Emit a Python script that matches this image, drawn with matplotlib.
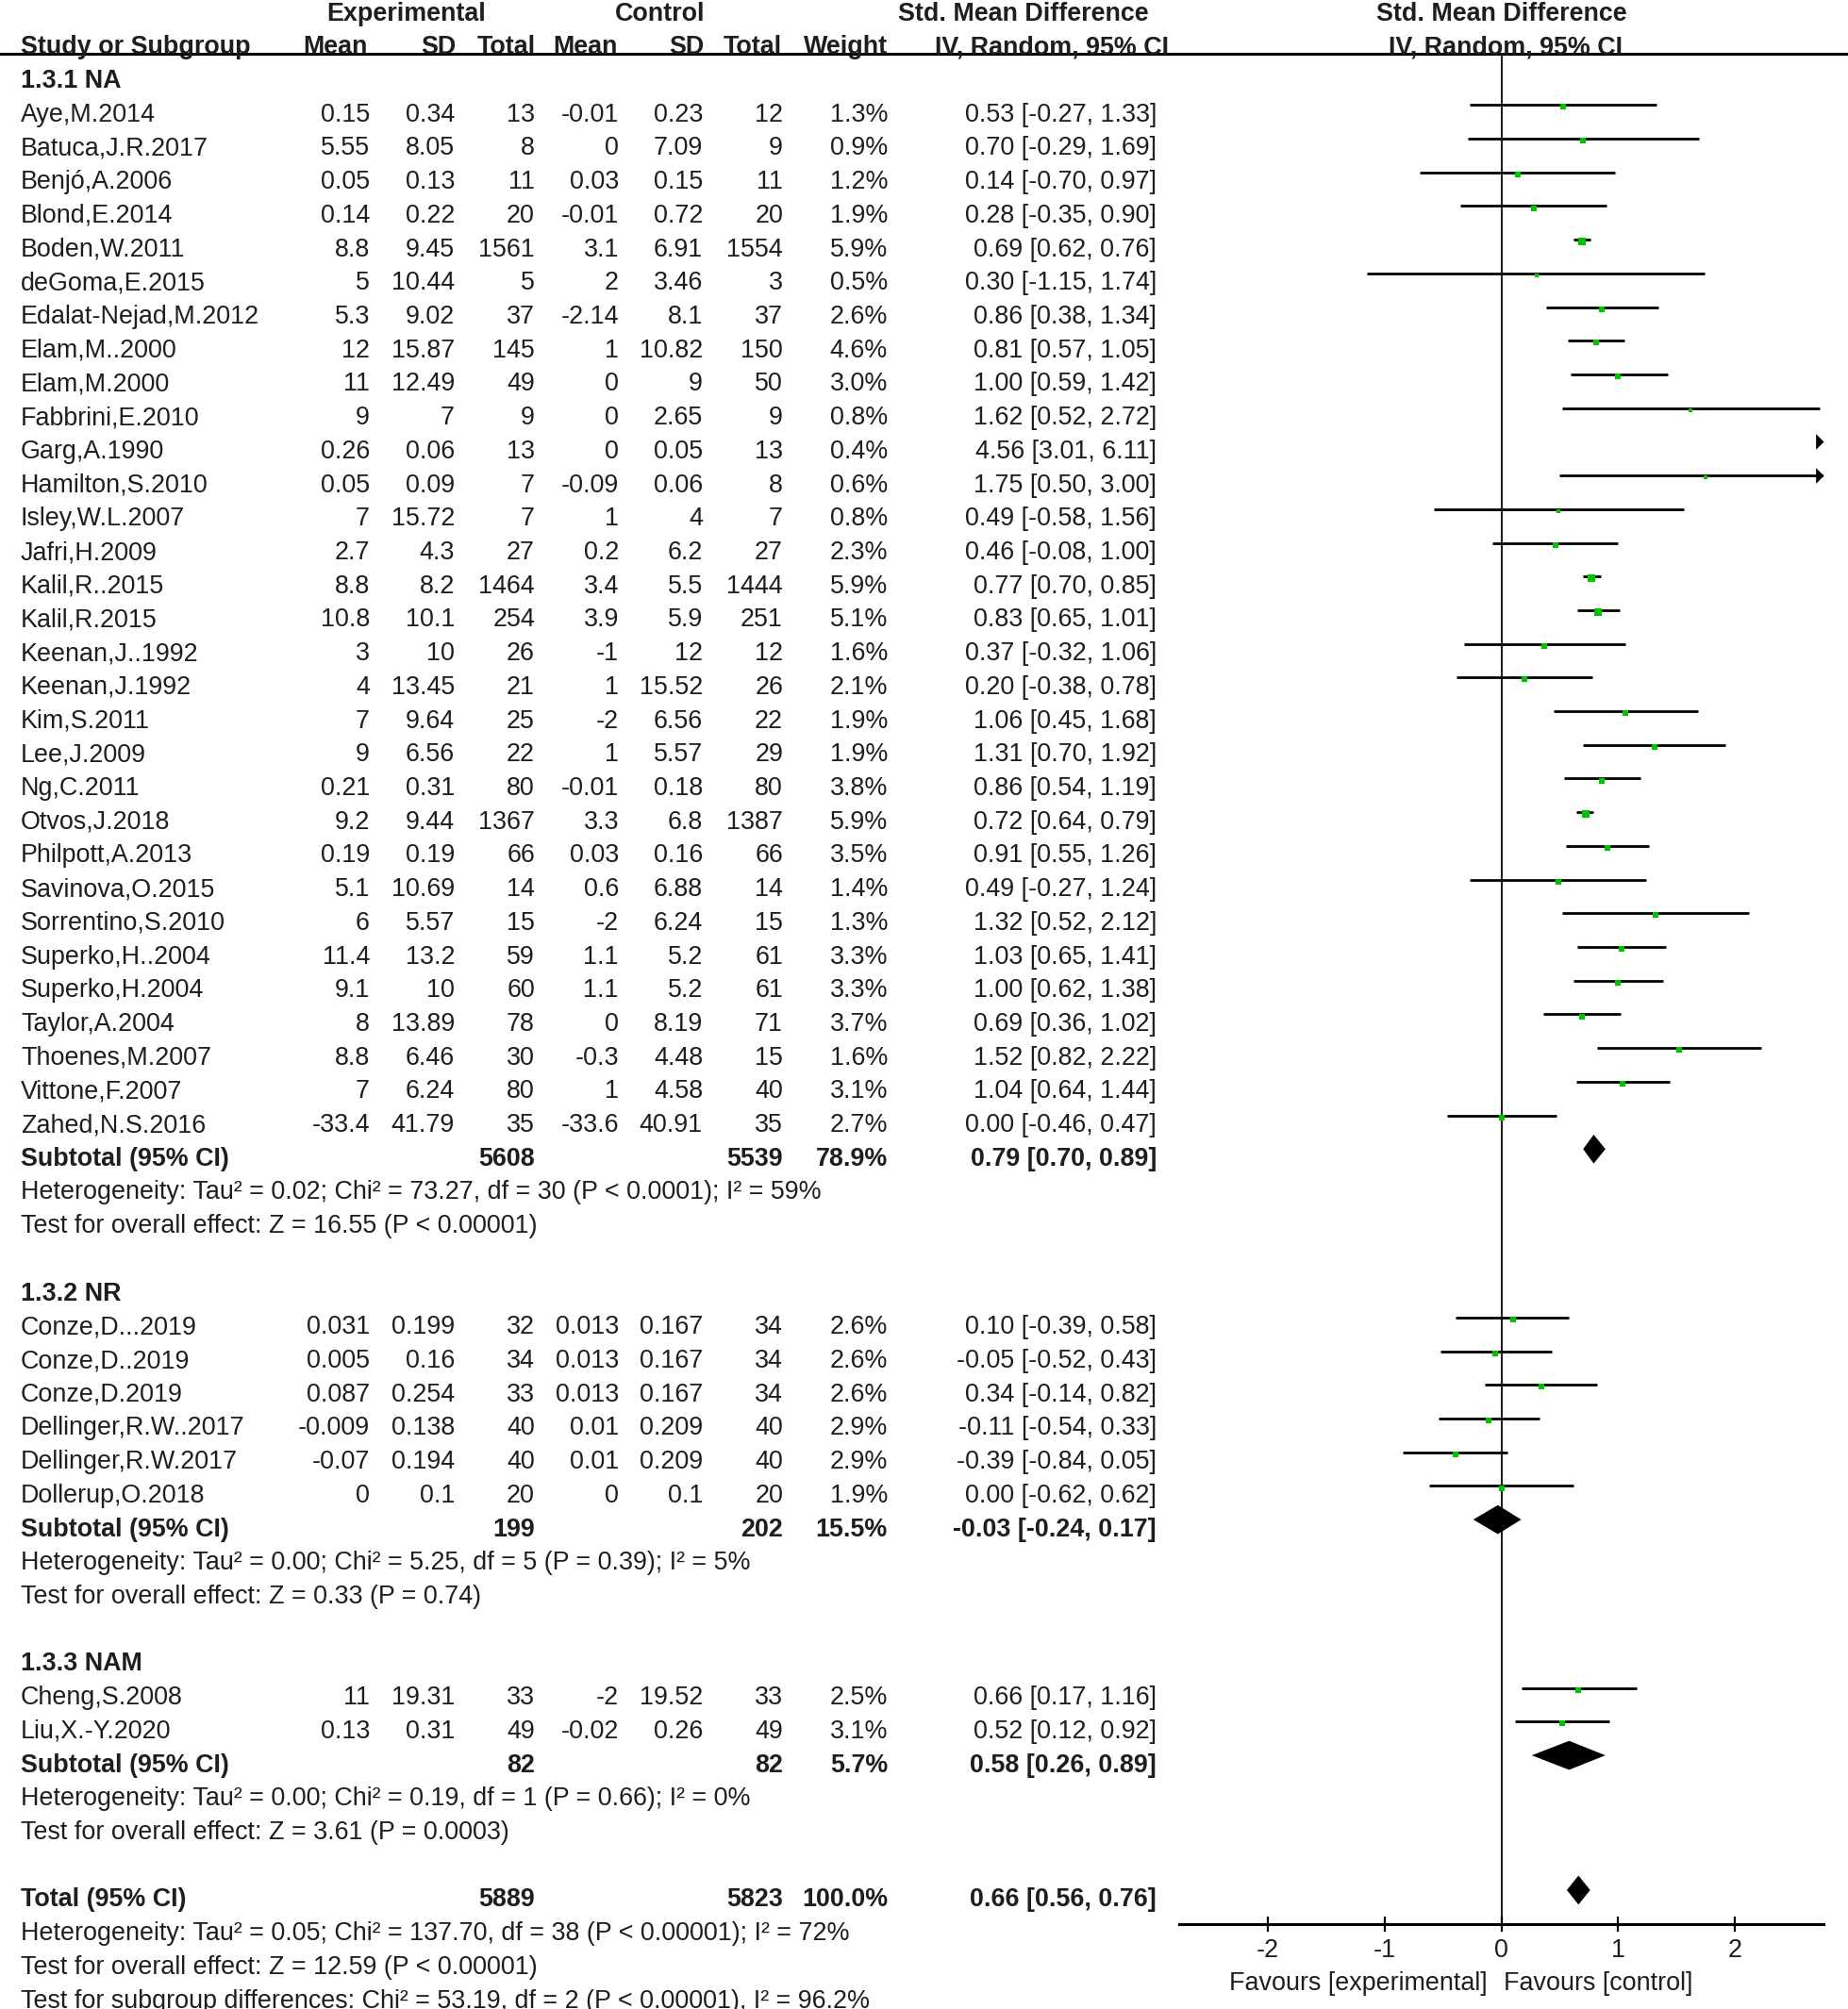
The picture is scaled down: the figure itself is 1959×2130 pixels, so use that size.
import matplotlib
matplotlib.use("Agg")
import matplotlib.pyplot as plt

plt.rcParams['font.family'] = ['Liberation Sans', 'DejaVu Sans']

W, H = 1959, 2130
ROW0, ROW_H = 12.0, 35.71      # pixel centre of row 0, row pitch
XMIN, XMAX = -2.755, 2.755
FS = 19.4
TXT = '#1e1e1e'

# ---- data -------------------------------------------------------------
groups = ["1.3.1 NA", "1.3.2 NR", "1.3.3 NAM"]
group_size = [31, 6, 2]

studies = ["Aye,M.2014", "Batuca,J.R.2017", "Benjó,A.2006", "Blond,E.2014",
           "Boden,W.2011", "deGoma,E.2015", "Edalat-Nejad,M.2012", "Elam,M..2000",
           "Elam,M.2000", "Fabbrini,E.2010", "Garg,A.1990", "Hamilton,S.2010",
           "Isley,W.L.2007", "Jafri,H.2009", "Kalil,R..2015", "Kalil,R.2015",
           "Keenan,J..1992", "Keenan,J.1992", "Kim,S.2011", "Lee,J.2009",
           "Ng,C.2011", "Otvos,J.2018", "Philpott,A.2013", "Savinova,O.2015",
           "Sorrentino,S.2010", "Superko,H..2004", "Superko,H.2004", "Taylor,A.2004",
           "Thoenes,M.2007", "Vittone,F.2007", "Zahed,N.S.2016",
           "Conze,D...2019", "Conze,D..2019", "Conze,D.2019", "Dellinger,R.W..2017",
           "Dellinger,R.W.2017", "Dollerup,O.2018",
           "Cheng,S.2008", "Liu,X.-Y.2020"]
exp_mean = ["0.15", "5.55", "0.05", "0.14", "8.8", "5", "5.3", "12", "11", "9",
            "0.26", "0.05", "7", "2.7", "8.8", "10.8", "3", "4", "7", "9", "0.21",
            "9.2", "0.19", "5.1", "6", "11.4", "9.1", "8", "8.8", "7", "-33.4",
            "0.031", "0.005", "0.087", "-0.009", "-0.07", "0",
            "11", "0.13"]
exp_sd = ["0.34", "8.05", "0.13", "0.22", "9.45", "10.44", "9.02", "15.87", "12.49",
          "7", "0.06", "0.09", "15.72", "4.3", "8.2", "10.1", "10", "13.45", "9.64",
          "6.56", "0.31", "9.44", "0.19", "10.69", "5.57", "13.2", "10", "13.89",
          "6.46", "6.24", "41.79",
          "0.199", "0.16", "0.254", "0.138", "0.194", "0.1",
          "19.31", "0.31"]
exp_n = [13, 8, 11, 20, 1561, 5, 37, 145, 49, 9, 13, 7, 7, 27, 1464, 254, 26, 21,
         25, 22, 80, 1367, 66, 14, 15, 59, 60, 78, 30, 80, 35,
         32, 34, 33, 40, 40, 20,
         33, 49]
ctl_mean = ["-0.01", "0", "0.03", "-0.01", "3.1", "2", "-2.14", "1", "0", "0", "0",
            "-0.09", "1", "0.2", "3.4", "3.9", "-1", "1", "-2", "1", "-0.01", "3.3",
            "0.03", "0.6", "-2", "1.1", "1.1", "0", "-0.3", "1", "-33.6",
            "0.013", "0.013", "0.013", "0.01", "0.01", "0",
            "-2", "-0.02"]
ctl_sd = ["0.23", "7.09", "0.15", "0.72", "6.91", "3.46", "8.1", "10.82", "9", "2.65",
          "0.05", "0.06", "4", "6.2", "5.5", "5.9", "12", "15.52", "6.56", "5.57",
          "0.18", "6.8", "0.16", "6.88", "6.24", "5.2", "5.2", "8.19", "4.48", "4.58",
          "40.91",
          "0.167", "0.167", "0.167", "0.209", "0.209", "0.1",
          "19.52", "0.26"]
ctl_n = [12, 9, 11, 20, 1554, 3, 37, 150, 50, 9, 13, 8, 7, 27, 1444, 251, 12, 26,
         22, 29, 80, 1387, 66, 14, 15, 61, 61, 71, 15, 40, 35,
         34, 34, 34, 40, 40, 20,
         33, 49]
weight = [1.3, 0.9, 1.2, 1.9, 5.9, 0.5, 2.6, 4.6, 3.0, 0.8, 0.4, 0.6, 0.8, 2.3, 5.9,
          5.1, 1.6, 2.1, 1.9, 1.9, 3.8, 5.9, 3.5, 1.4, 1.3, 3.3, 3.3, 3.7, 1.6, 3.1,
          2.7,
          2.6, 2.6, 2.6, 2.9, 2.9, 1.9,
          2.5, 3.1]
smd = [0.53, 0.70, 0.14, 0.28, 0.69, 0.30, 0.86, 0.81, 1.00, 1.62, 4.56, 1.75, 0.49,
       0.46, 0.77, 0.83, 0.37, 0.20, 1.06, 1.31, 0.86, 0.72, 0.91, 0.49, 1.32, 1.03,
       1.00, 0.69, 1.52, 1.04, 0.00,
       0.10, -0.05, 0.34, -0.11, -0.39, 0.00,
       0.66, 0.52]
ci_lo = [-0.27, -0.29, -0.70, -0.35, 0.62, -1.15, 0.38, 0.57, 0.59, 0.52, 3.01, 0.50,
         -0.58, -0.08, 0.70, 0.65, -0.32, -0.38, 0.45, 0.70, 0.54, 0.64, 0.55, -0.27,
         0.52, 0.65, 0.62, 0.36, 0.82, 0.64, -0.46,
         -0.39, -0.52, -0.14, -0.54, -0.84, -0.62,
         0.17, 0.12]
ci_hi = [1.33, 1.69, 0.97, 0.90, 0.76, 1.74, 1.34, 1.05, 1.42, 2.72, 6.11, 3.00, 1.56,
         1.00, 0.85, 1.01, 1.06, 0.78, 1.68, 1.92, 1.19, 0.79, 1.26, 1.24, 2.12, 1.41,
         1.38, 1.02, 2.22, 1.44, 0.47,
         0.58, 0.43, 0.82, 0.33, 0.05, 0.62,
         1.16, 0.92]

sub_exp_n = [5608, 199, 82]
sub_ctl_n = [5539, 202, 82]
sub_weight = [78.9, 15.5, 5.7]
sub_smd = [0.79, -0.03, 0.58]
sub_lo = [0.70, -0.24, 0.26]
sub_hi = [0.89, 0.17, 0.89]
sub_het = ["Heterogeneity: Tau² = 0.02; Chi² = 73.27, df = 30 (P < 0.0001); I² = 59%",
           "Heterogeneity: Tau² = 0.00; Chi² = 5.25, df = 5 (P = 0.39); I² = 5%",
           "Heterogeneity: Tau² = 0.00; Chi² = 0.19, df = 1 (P = 0.66); I² = 0%"]
sub_test = ["Test for overall effect: Z = 16.55 (P < 0.00001)",
            "Test for overall effect: Z = 0.33 (P = 0.74)",
            "Test for overall effect: Z = 3.61 (P = 0.0003)"]

tot_exp_n, tot_ctl_n, tot_weight = 5889, 5823, 100.0
tot_smd, tot_lo, tot_hi = 0.66, 0.56, 0.76
tot_notes = ["Heterogeneity: Tau² = 0.05; Chi² = 137.70, df = 38 (P < 0.00001); I² = 72%",
             "Test for overall effect: Z = 12.59 (P < 0.00001)",
             "Test for subgroup differences: Chi² = 53.19, df = 2 (P < 0.00001), I² = 96.2%"]

ticks = [-2, -1, 0, 1, 2]

# ---- layout -----------------------------------------------------------
# right edges (px) of table columns
COLS = [392, 482, 567, 656, 745, 830, 941, 1226]
LINE_OFF = -0.22       # CI line / diamond offset from text row centre
BASE = 0.27            # baseline offset from row centre


def row_of(px):
    return (px - ROW0) / ROW_H


def fmt_ci(e, lo, hi):
    return f"{e:.2f} [{lo:.2f}, {hi:.2f}]"


fig = plt.figure(figsize=(W / 100, H / 100), dpi=100)
ax_t = fig.add_axes([0, 0, 1, 1])
ax_t.set_xlim(0, W)
ax_t.set_ylim(row_of(H), row_of(0))
ax_t.axis('off')

top_px, bot_px, left_px, right_px = 57, 2040, 1250, 1933
ax_f = fig.add_axes([left_px / W, 1 - bot_px / H, (right_px - left_px) / W,
                     (bot_px - top_px) / H])
ax_f.set_xlim(XMIN, XMAX)
ax_f.set_ylim(row_of(bot_px), row_of(top_px))
for s in ['top', 'left', 'right']:
    ax_f.spines[s].set_visible(False)
ax_f.spines['bottom'].set_linewidth(2.2)
ax_f.set_yticks([])
ax_f.set_xticks(ticks)
ax_f.set_xticklabels([str(t) for t in ticks])
ax_f.tick_params(axis='x', direction='inout', length=12, width=1.6, pad=5,
                 labelsize=FS, labelcolor=TXT)
ax_f.patch.set_alpha(0)
ax_f.axvline(0, color='#222222', lw=1.5, zorder=1)


def put(x, r, s, ha='right', bold=False):
    ax_t.text(x, r + BASE, s, ha=ha, va='baseline', fontsize=FS, color=TXT,
              fontweight='bold' if bold else 'normal')


def diamond(r, e, lo, hi):
    y = r + LINE_OFF
    h = 0.43
    ax_f.fill([lo, e, hi, e], [y, y - h, y, y + h], color='black', lw=0, zorder=3)


# headers
put(431, 0, "Experimental", ha='center', bold=True)
put(700, 0, "Control", ha='center', bold=True)
put(1085, 0, "Std. Mean Difference", ha='center', bold=True)
put(1592, 0, "Std. Mean Difference", ha='center', bold=True)
put(22, 1, "Study or Subgroup", ha='left', bold=True)
for x, s in zip([390, 483, 568, 655, 746, 829, 941],
                ["Mean", "SD", "Total", "Mean", "SD", "Total", "Weight"]):
    put(x, 1, s, bold=True)
put(1115, 1, "IV, Random, 95% CI", ha='center', bold=True)
put(1596, 1, "IV, Random, 95% CI", ha='center', bold=True)
ax_t.axhline(row_of(top_px), color='black', lw=2.2)

# body
r = 2
i = 0
for g, gname in enumerate(groups):
    put(22, r, gname, ha='left', bold=True)
    r += 1
    for _ in range(group_size[g]):
        put(22, r, studies[i], ha='left')
        vals = [exp_mean[i], exp_sd[i], str(exp_n[i]), ctl_mean[i], ctl_sd[i],
                str(ctl_n[i]), f"{weight[i]:.1f}%", fmt_ci(smd[i], ci_lo[i], ci_hi[i])]
        for x, s in zip(COLS, vals):
            put(x, r, s)
        y = r + LINE_OFF
        lo, hi = max(ci_lo[i], XMIN), min(ci_hi[i], XMAX)
        if lo < hi:
            ax_f.hlines(y, lo, hi, color='black', lw=2.0, zorder=2)
        if ci_hi[i] > XMAX:
            ax_f.plot([XMAX], [y], marker=[(-1, -1), (0, 0), (-1, 1), (-1, -1)],
                      ms=12, color='black', mew=0, clip_on=False, zorder=3)
        if XMIN < smd[i] < XMAX:
            ax_f.plot([smd[i]], [y + 0.06], marker='s', ms=2.6 + 1.1 * weight[i] ** 0.5,
                      color='#00c400', mew=0, zorder=4)
        r += 1
        i += 1
    put(22, r, "Subtotal (95% CI)", ha='left', bold=True)
    for x, s in zip([COLS[2], COLS[5], COLS[6], COLS[7]],
                    [str(sub_exp_n[g]), str(sub_ctl_n[g]), f"{sub_weight[g]:.1f}%",
                     fmt_ci(sub_smd[g], sub_lo[g], sub_hi[g])]):
        put(x, r, s, bold=True)
    diamond(r, sub_smd[g], sub_lo[g], sub_hi[g])
    put(22, r + 1, sub_het[g], ha='left')
    put(22, r + 2, sub_test[g], ha='left')
    r += 4

put(22, r, "Total (95% CI)", ha='left', bold=True)
for x, s in zip([COLS[2], COLS[5], COLS[6], COLS[7]],
                [str(tot_exp_n), str(tot_ctl_n), f"{tot_weight:.1f}%",
                 fmt_ci(tot_smd, tot_lo, tot_hi)]):
    put(x, r, s, bold=True)
diamond(r, tot_smd, tot_lo, tot_hi)
for k, note in enumerate(tot_notes):
    put(22, r + 1 + k, note, ha='left')

fav_y = row_of(2100) + BASE
ax_f.text(-0.12, fav_y, "Favours [experimental]", ha='right', va='baseline',
          fontsize=FS, color=TXT, clip_on=False)
ax_f.text(0.02, fav_y, "Favours [control]", ha='left', va='baseline',
          fontsize=FS, color=TXT, clip_on=False)

fig.savefig("out.png", dpi=100, facecolor='white')
